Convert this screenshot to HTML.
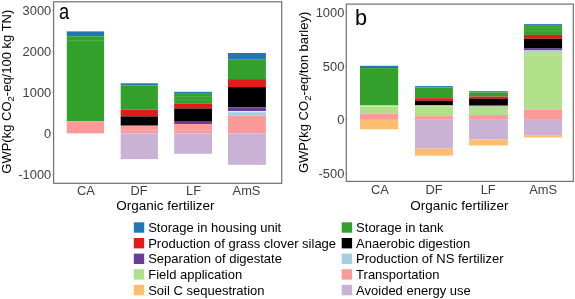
<!DOCTYPE html>
<html><head><meta charset="utf-8"><title>GWP</title>
<style>html,body{margin:0;padding:0;background:#fff;}svg{display:block;will-change:transform}</style></head>
<body><svg width="575" height="299" viewBox="0 0 575 299">
<rect width="575" height="299" fill="#fff"/>
<rect x="66.8" y="31.4" width="37.3" height="4.9" fill="#1f78b4"/>
<rect x="66.8" y="36.3" width="37.3" height="85.0" fill="#33a02c"/>
<rect x="66.8" y="40.4" width="37.3" height="0.7" fill="#5cb85a"/>
<rect x="66.8" y="121.3" width="37.3" height="12.1" fill="#fb9a99"/>
<rect x="120.7" y="83.3" width="37.2" height="2.1" fill="#1f78b4"/>
<rect x="120.7" y="85.4" width="37.2" height="24.1" fill="#33a02c"/>
<rect x="120.7" y="109.5" width="37.2" height="6.9" fill="#e31a1c"/>
<rect x="120.7" y="116.4" width="37.2" height="9.3" fill="#000000"/>
<rect x="120.7" y="125.7" width="37.2" height="7.8" fill="#fb9a99"/>
<rect x="120.7" y="129.8" width="37.2" height="0.7" fill="#fdb9b8"/>
<rect x="120.7" y="133.5" width="37.2" height="25.6" fill="#cab2d6"/>
<rect x="174.2" y="91.8" width="37.8" height="2.0" fill="#1f78b4"/>
<rect x="174.2" y="93.8" width="37.8" height="10.0" fill="#33a02c"/>
<rect x="174.2" y="96.4" width="37.8" height="0.7" fill="#5cb85a"/>
<rect x="174.2" y="99.5" width="37.8" height="0.7" fill="#5cb85a"/>
<rect x="174.2" y="103.8" width="37.8" height="4.7" fill="#e31a1c"/>
<rect x="174.2" y="108.5" width="37.8" height="13.2" fill="#000000"/>
<rect x="174.2" y="121.7" width="37.8" height="2.4" fill="#6a3d9a"/>
<rect x="174.2" y="124.1" width="37.8" height="9.4" fill="#fb9a99"/>
<rect x="174.2" y="129.9" width="37.8" height="0.7" fill="#fdb9b8"/>
<rect x="174.2" y="133.5" width="37.8" height="20.3" fill="#cab2d6"/>
<rect x="228.0" y="53.0" width="37.9" height="6.7" fill="#1f78b4"/>
<rect x="228.0" y="59.7" width="37.9" height="19.4" fill="#33a02c"/>
<rect x="228.0" y="79.1" width="37.9" height="8.0" fill="#e31a1c"/>
<rect x="228.0" y="87.1" width="37.9" height="20.3" fill="#000000"/>
<rect x="228.0" y="107.4" width="37.9" height="3.7" fill="#6a3d9a"/>
<rect x="228.0" y="111.1" width="37.9" height="1.1" fill="#dff0e0"/>
<rect x="228.0" y="112.2" width="37.9" height="3.5" fill="#a6cee3"/>
<rect x="228.0" y="115.7" width="37.9" height="17.8" fill="#fb9a99"/>
<rect x="228.0" y="133.5" width="37.9" height="31.3" fill="#cab2d6"/>
<rect x="360.0" y="65.8" width="38.2" height="2.3" fill="#1f78b4"/>
<rect x="360.0" y="68.1" width="38.2" height="36.9" fill="#33a02c"/>
<rect x="360.0" y="105.0" width="38.2" height="8.5" fill="#b2df8a"/>
<rect x="360.0" y="106.2" width="38.2" height="0.7" fill="#d4edbd"/>
<rect x="360.0" y="113.5" width="38.2" height="6.3" fill="#fb9a99"/>
<rect x="360.0" y="119.8" width="38.2" height="9.5" fill="#fdbf6f"/>
<rect x="415.0" y="86.1" width="37.9" height="1.3" fill="#1f78b4"/>
<rect x="415.0" y="87.4" width="37.9" height="10.8" fill="#33a02c"/>
<rect x="415.0" y="98.2" width="37.9" height="2.6" fill="#e31a1c"/>
<rect x="415.0" y="100.8" width="37.9" height="4.7" fill="#000000"/>
<rect x="415.0" y="105.5" width="37.9" height="10.6" fill="#b2df8a"/>
<rect x="415.0" y="105.6" width="37.9" height="0.8" fill="#d4edbd"/>
<rect x="415.0" y="116.1" width="37.9" height="3.7" fill="#fb9a99"/>
<rect x="415.0" y="119.8" width="37.9" height="28.9" fill="#cab2d6"/>
<rect x="415.0" y="148.7" width="37.9" height="7.0" fill="#fdbf6f"/>
<rect x="469.1" y="91.2" width="38.8" height="1.2" fill="#1f78b4"/>
<rect x="469.1" y="92.4" width="38.8" height="4.2" fill="#33a02c"/>
<rect x="469.1" y="96.6" width="38.8" height="2.2" fill="#e31a1c"/>
<rect x="469.1" y="98.7" width="38.8" height="6.5" fill="#000000"/>
<rect x="469.1" y="105.2" width="38.8" height="1.2" fill="#6a3d9a"/>
<rect x="469.1" y="106.4" width="38.8" height="8.7" fill="#b2df8a"/>
<rect x="469.1" y="115.1" width="38.8" height="4.7" fill="#fb9a99"/>
<rect x="469.1" y="119.8" width="38.8" height="19.7" fill="#cab2d6"/>
<rect x="469.1" y="139.5" width="38.8" height="6.0" fill="#fdbf6f"/>
<rect x="524.0" y="24.1" width="38.1" height="1.1" fill="#1f78b4"/>
<rect x="524.0" y="25.2" width="38.1" height="9.7" fill="#33a02c"/>
<rect x="524.0" y="27.6" width="38.1" height="0.7" fill="#5cb85a"/>
<rect x="524.0" y="30.6" width="38.1" height="0.7" fill="#5cb85a"/>
<rect x="524.0" y="34.9" width="38.1" height="3.8" fill="#e31a1c"/>
<rect x="524.0" y="38.7" width="38.1" height="9.4" fill="#000000"/>
<rect x="524.0" y="48.1" width="38.1" height="2.0" fill="#6a3d9a"/>
<rect x="524.0" y="50.1" width="38.1" height="2.0" fill="#a6cee3"/>
<rect x="524.0" y="52.1" width="38.1" height="57.4" fill="#b2df8a"/>
<rect x="524.0" y="54.8" width="38.1" height="0.6" fill="#c6e8a8"/>
<rect x="524.0" y="109.5" width="38.1" height="10.3" fill="#fb9a99"/>
<rect x="524.0" y="119.8" width="38.1" height="15.3" fill="#cab2d6"/>
<rect x="524.0" y="135.1" width="38.1" height="2.4" fill="#fdbf6f"/>
<rect x="53.6" y="1.8" width="228.1" height="181.5" fill="none" stroke="#707070" stroke-width="1.2"/>
<rect x="346.3" y="4.1" width="226.99999999999994" height="177.3" fill="none" stroke="#707070" stroke-width="1.2"/>
<line x1="52.2" x2="53.6" y1="10.5" y2="10.5" stroke="#707070" stroke-width="0.8" stroke-opacity="0.7"/>
<line x1="52.2" x2="53.6" y1="51.5" y2="51.5" stroke="#707070" stroke-width="0.8" stroke-opacity="0.7"/>
<line x1="52.2" x2="53.6" y1="92.4" y2="92.4" stroke="#707070" stroke-width="0.8" stroke-opacity="0.7"/>
<line x1="52.2" x2="53.6" y1="133.4" y2="133.4" stroke="#707070" stroke-width="0.8" stroke-opacity="0.7"/>
<line x1="52.2" x2="53.6" y1="174.4" y2="174.4" stroke="#707070" stroke-width="0.8" stroke-opacity="0.7"/>
<line x1="344.9" x2="346.3" y1="12.6" y2="12.6" stroke="#707070" stroke-width="0.8" stroke-opacity="0.7"/>
<line x1="344.9" x2="346.3" y1="66.2" y2="66.2" stroke="#707070" stroke-width="0.8" stroke-opacity="0.7"/>
<line x1="344.9" x2="346.3" y1="119.8" y2="119.8" stroke="#707070" stroke-width="0.8" stroke-opacity="0.7"/>
<line x1="344.9" x2="346.3" y1="173.6" y2="173.6" stroke="#707070" stroke-width="0.8" stroke-opacity="0.7"/>
<text transform="translate(51.2,14.9) scale(0.96,1)" font-size="13.4" text-anchor="end" fill="#404040" font-family="Liberation Sans, sans-serif" >3000</text>
<text transform="translate(51.2,55.9) scale(0.96,1)" font-size="13.4" text-anchor="end" fill="#404040" font-family="Liberation Sans, sans-serif" >2000</text>
<text transform="translate(51.2,96.80000000000001) scale(0.96,1)" font-size="13.4" text-anchor="end" fill="#404040" font-family="Liberation Sans, sans-serif" >1000</text>
<text transform="translate(51.2,137.8) scale(0.96,1)" font-size="13.4" text-anchor="end" fill="#404040" font-family="Liberation Sans, sans-serif" >0</text>
<text transform="translate(51.2,178.8) scale(0.96,1)" font-size="13.4" text-anchor="end" fill="#404040" font-family="Liberation Sans, sans-serif" >-1000</text>
<text transform="translate(344.3,17.0) scale(0.96,1)" font-size="13.4" text-anchor="end" fill="#404040" font-family="Liberation Sans, sans-serif" >1000</text>
<text transform="translate(344.3,70.60000000000001) scale(0.96,1)" font-size="13.4" text-anchor="end" fill="#404040" font-family="Liberation Sans, sans-serif" >500</text>
<text transform="translate(344.3,124.2) scale(0.96,1)" font-size="13.4" text-anchor="end" fill="#404040" font-family="Liberation Sans, sans-serif" >0</text>
<text transform="translate(344.3,178.0) scale(0.96,1)" font-size="13.4" text-anchor="end" fill="#404040" font-family="Liberation Sans, sans-serif" >-500</text>
<text transform="translate(86.0,195.3) scale(0.96,1)" font-size="13.4" text-anchor="middle" fill="#404040" font-family="Liberation Sans, sans-serif" >CA</text>
<text transform="translate(139.0,195.3) scale(0.96,1)" font-size="13.4" text-anchor="middle" fill="#404040" font-family="Liberation Sans, sans-serif" >DF</text>
<text transform="translate(193.5,195.3) scale(0.96,1)" font-size="13.4" text-anchor="middle" fill="#404040" font-family="Liberation Sans, sans-serif" >LF</text>
<text transform="translate(246.5,195.3) scale(0.96,1)" font-size="13.4" text-anchor="middle" fill="#404040" font-family="Liberation Sans, sans-serif" >AmS</text>
<text transform="translate(379.8,194.2) scale(0.96,1)" font-size="13.4" text-anchor="middle" fill="#404040" font-family="Liberation Sans, sans-serif" >CA</text>
<text transform="translate(434.1,194.2) scale(0.96,1)" font-size="13.4" text-anchor="middle" fill="#404040" font-family="Liberation Sans, sans-serif" >DF</text>
<text transform="translate(488.2,194.2) scale(0.96,1)" font-size="13.4" text-anchor="middle" fill="#404040" font-family="Liberation Sans, sans-serif" >LF</text>
<text transform="translate(543.1,194.2) scale(0.96,1)" font-size="13.4" text-anchor="middle" fill="#404040" font-family="Liberation Sans, sans-serif" >AmS</text>
<text transform="translate(165.4,210.2) scale(1,1)" font-size="13.5" text-anchor="middle" fill="#000" font-family="Liberation Sans, sans-serif" >Organic fertilizer</text>
<text transform="translate(459.3,210.2) scale(1,1)" font-size="13.5" text-anchor="middle" fill="#000" font-family="Liberation Sans, sans-serif" >Organic fertilizer</text>
<text transform="translate(10.6,173.7) rotate(-90)" font-size="13" fill="#000" font-family="Liberation Sans, sans-serif">GWP(kg CO<tspan font-size="9.5" dy="3">2</tspan><tspan dy="-3">-eq/100 kg TN)</tspan></text>
<text transform="translate(308.1,173.1) rotate(-90)" font-size="13" fill="#000" font-family="Liberation Sans, sans-serif">GWP(kg CO<tspan font-size="9.5" dy="3">2</tspan><tspan dy="-3">-eq/ton barley)</tspan></text>
<text transform="translate(59.1,18.7) scale(0.84,1)" font-size="21.8" fill="#000" font-family="Liberation Sans, sans-serif">a</text>
<text transform="translate(355.0,25.1) scale(0.95,1)" font-size="22.8" text-anchor="start" fill="#000" font-family="Liberation Sans, sans-serif" >b</text>
<rect x="133.8" y="222.3" width="10.4" height="10.4" fill="#1f78b4"/>
<text transform="translate(148.2,232.0) scale(1,1)" font-size="13" text-anchor="start" fill="#000" font-family="Liberation Sans, sans-serif" >Storage in housing unit</text>
<rect x="133.8" y="238.0" width="10.4" height="10.4" fill="#e31a1c"/>
<text transform="translate(148.2,247.7) scale(1,1)" font-size="13" text-anchor="start" fill="#000" font-family="Liberation Sans, sans-serif" >Production of grass clover silage</text>
<rect x="133.8" y="253.6" width="10.4" height="10.4" fill="#6a3d9a"/>
<text transform="translate(148.2,263.3) scale(1,1)" font-size="13" text-anchor="start" fill="#000" font-family="Liberation Sans, sans-serif" >Separation of digestate</text>
<rect x="133.8" y="269.2" width="10.4" height="10.4" fill="#b2df8a"/>
<text transform="translate(148.2,278.9) scale(1,1)" font-size="13" text-anchor="start" fill="#000" font-family="Liberation Sans, sans-serif" >Field application</text>
<rect x="133.8" y="284.9" width="10.4" height="10.4" fill="#fdbf6f"/>
<text transform="translate(148.2,294.59999999999997) scale(1,1)" font-size="13" text-anchor="start" fill="#000" font-family="Liberation Sans, sans-serif" >Soil C sequestration</text>
<rect x="341.7" y="222.3" width="10.4" height="10.4" fill="#33a02c"/>
<text transform="translate(356.1,232.0) scale(1,1)" font-size="13" text-anchor="start" fill="#000" font-family="Liberation Sans, sans-serif" >Storage in tank</text>
<rect x="341.7" y="238.0" width="10.4" height="10.4" fill="#000000"/>
<text transform="translate(356.1,247.7) scale(1,1)" font-size="13" text-anchor="start" fill="#000" font-family="Liberation Sans, sans-serif" >Anaerobic digestion</text>
<rect x="341.7" y="253.6" width="10.4" height="10.4" fill="#a6cee3"/>
<text transform="translate(356.1,263.3) scale(1,1)" font-size="13" text-anchor="start" fill="#000" font-family="Liberation Sans, sans-serif" >Production of NS fertilizer</text>
<rect x="341.7" y="269.2" width="10.4" height="10.4" fill="#fb9a99"/>
<text transform="translate(356.1,278.9) scale(1,1)" font-size="13" text-anchor="start" fill="#000" font-family="Liberation Sans, sans-serif" >Transportation</text>
<rect x="341.7" y="284.9" width="10.4" height="10.4" fill="#cab2d6"/>
<text transform="translate(356.1,294.59999999999997) scale(1,1)" font-size="13" text-anchor="start" fill="#000" font-family="Liberation Sans, sans-serif" >Avoided energy use</text>
</svg></body></html>
